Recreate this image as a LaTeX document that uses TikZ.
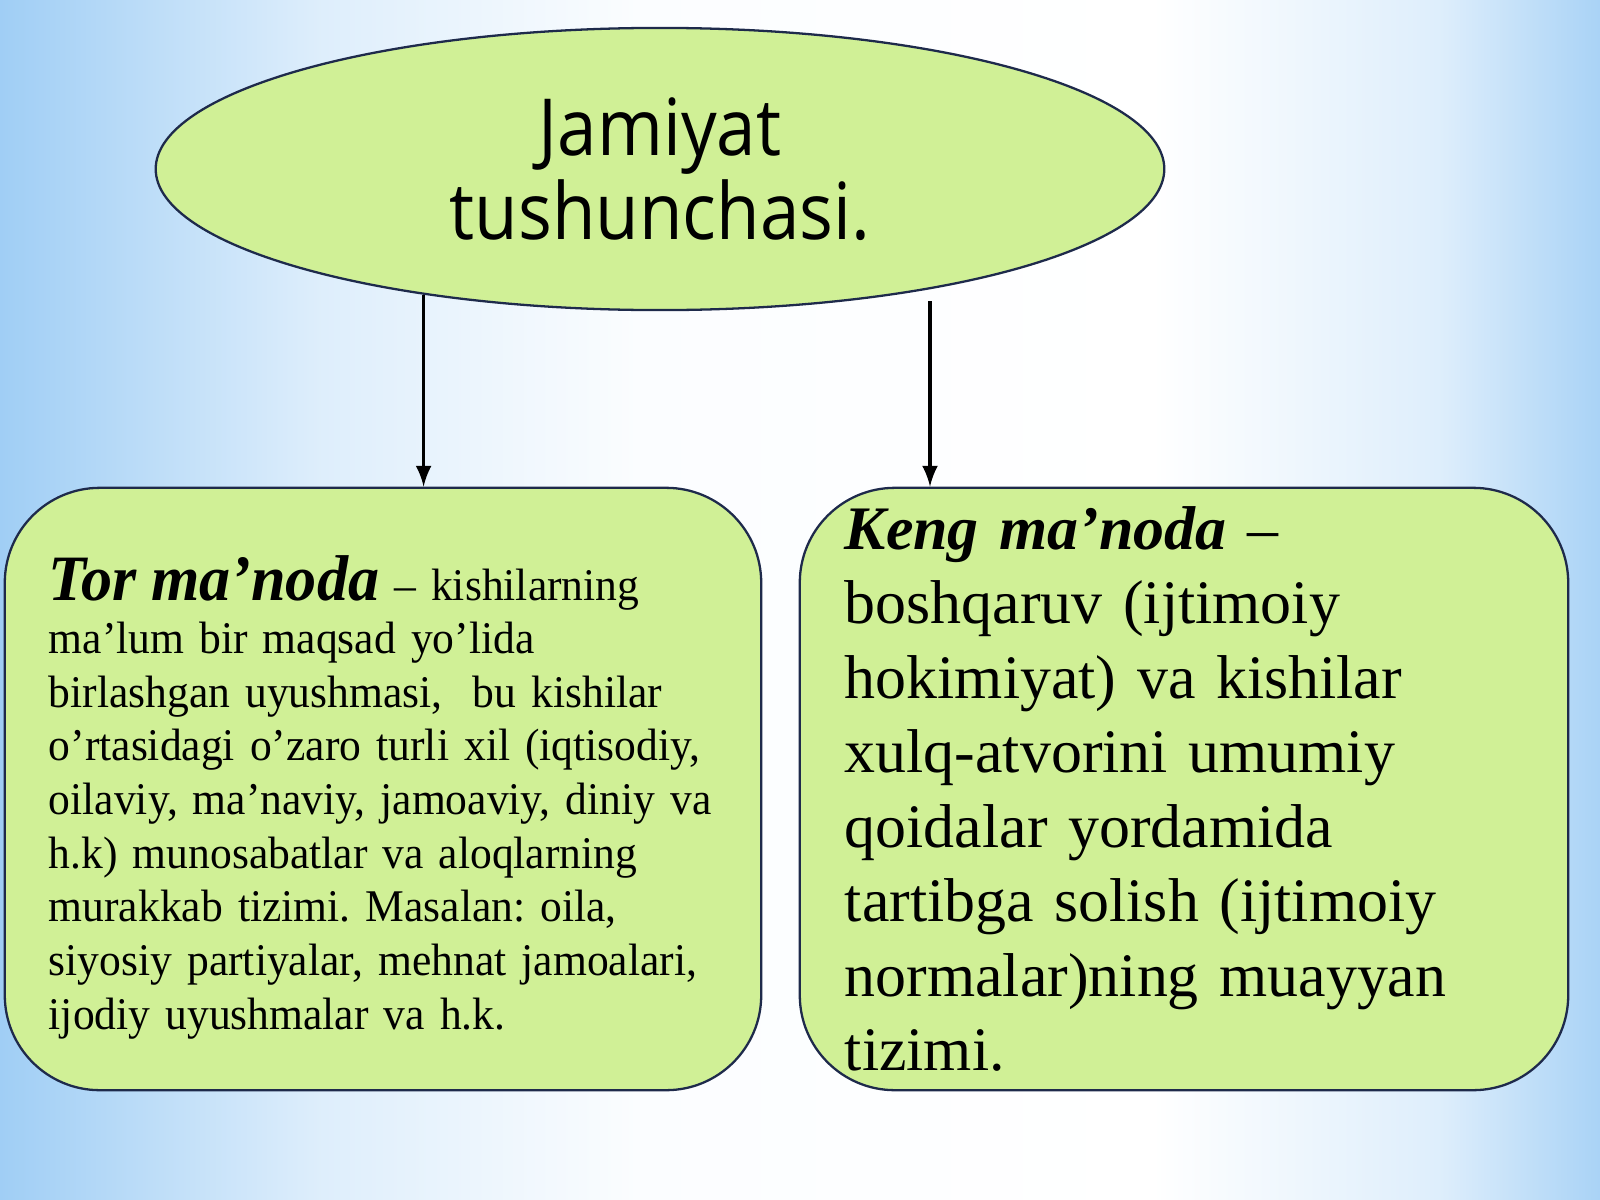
\documentclass[tikz,border=0pt]{standalone}
\usepackage{fontspec}
\setmainfont{Liberation Serif}
\newfontfamily\titlefont[FakeStretch=0.9]{Open Sans}
\newfontfamily\torfont[FakeStretch=0.96]{Liberation Serif}
\usetikzlibrary{shapes.geometric}
\frenchspacing

\definecolor{bgblue}{RGB}{160,206,245}
\definecolor{boxgreen}{RGB}{208,240,150}
\definecolor{boxline}{RGB}{30,42,75}

\pgfdeclarehorizontalshading{slide_bg}{100bp}{color(0bp)=(bgblue); color(25bp)=(bgblue);
  color(35bp)=(bgblue!35!white); color(45bp)=(white!96!bgblue); color(61bp)=(white);
  color(70bp)=(bgblue!35!white); color(75bp)=(bgblue!90!white); color(100bp)=(bgblue!90!white)}

\begin{document}
\begin{tikzpicture}[ % one unit is one pixel of the slide
x=0.01cm, y=-0.01cm,
oval/.style={ellipse, draw=boxline, fill=boxgreen, line width=0.65pt, inner sep=0pt,
  minimum width=10.08cm, minimum height=2.82cm, align=center,
  font=\titlefont\fontsize{22.4}{23.9}\selectfont},
rounded_square/.style={rectangle, rounded corners=0.95cm, draw=boxline, fill=boxgreen,
  line width=0.65pt, inner ysep=0pt, minimum height=6.02cm, align=left},
out_arrow/.style={-latex, line width=1.05pt}
]

% background of the slide
\useasboundingbox (0,0) rectangle (1600,1200);
\shade[shading=slide_bg] (0,0) rectangle (1600,1200);

% \node[type](name_of_node) at (x,y) {node_text}
\node[oval](jamiyat) at (660,169) {Jamiyat\\tushunchasi.};

\node[rounded_square, text width=6.68cm, inner xsep=0.44cm,
  font=\torfont\fontsize{12.9}{15.25}\selectfont](tor_manoda) at (383,789)
  {{\fontsize{18.4}{15.25}\selectfont\bfseries\itshape Tor ma’noda} – kishilarning\\
   ma’lum bir maqsad yo’lida\\
   birlashgan uyushmasi,\ \ bu kishilar\\
   o’rtasidagi o’zaro turli xil (iqtisodiy,\\
   oilaviy, ma’naviy, jamoaviy, diniy va\\
   h.k) munosabatlar va aloqlarning\\
   murakkab tizimi. Masalan: oila,\\
   siyosiy partiyalar, mehnat jamoalari,\\
   ijodiy uyushmalar va h.k.\vspace{-0.16cm}};

\node[rounded_square, text width=6.78cm, inner xsep=0.45cm,
  font=\fontsize{17.6}{21.2}\selectfont](keng_manoda) at (1184,789)
  {{\bfseries\itshape Keng ma’noda} –\\
   boshqaruv (ijtimoiy\\
   hokimiyat) va kishilar\\
   xulq-atvorini umumiy\\
   qoidalar yordamida\\
   tartibga solish (ijtimoiy\\
   normalar)ning muayyan\\
   tizimi.};

% \draw[->](name_of_node.angle) -- (name_of_node.angle |- other_node.direction)
\draw[out_arrow](jamiyat.208) -- (jamiyat.208 |- tor_manoda.north);
\draw[out_arrow, shorten <=1.2mm](jamiyat.336) -- (jamiyat.336 |- keng_manoda.north);

\end{tikzpicture}
\end{document}
